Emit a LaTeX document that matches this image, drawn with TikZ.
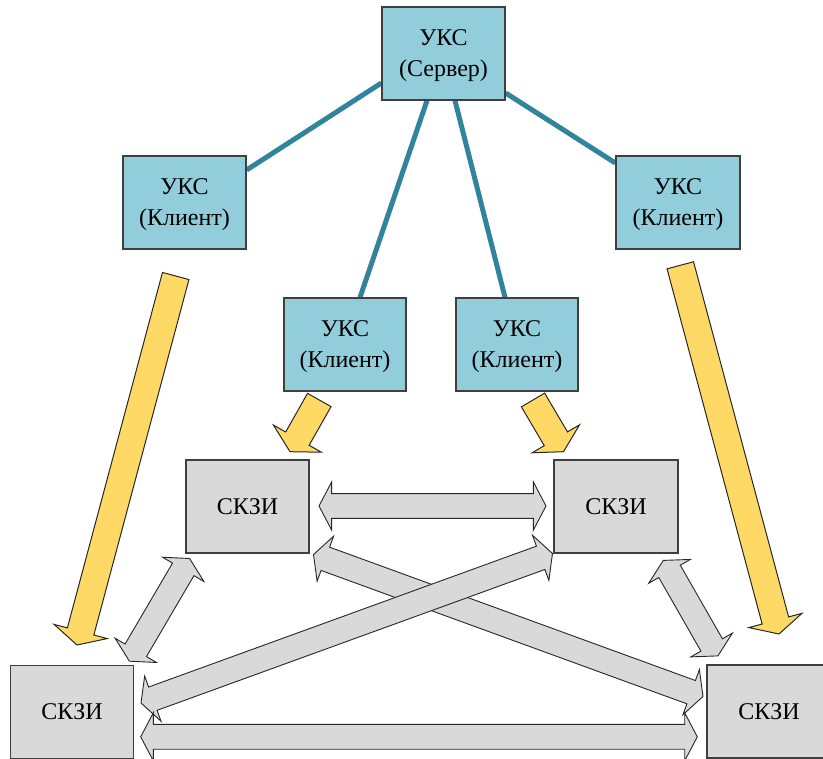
\documentclass[tikz,border=0pt]{standalone}
\usepackage{fontspec}
\setmainfont{Liberation Serif}
\usetikzlibrary{calc}

\definecolor{ukcfill}{HTML}{92CDDC}
\definecolor{linkteal}{HTML}{31849B}
\definecolor{keyfill}{HTML}{FFD966}
\definecolor{cryptofill}{HTML}{D9D9D9}
\definecolor{frame}{HTML}{3F3F3F}

\pgfdeclarelayer{links}
\pgfsetlayers{links,main}

\tikzset{
  ukc/.style={draw=frame, line width=1.3pt, fill=ukcfill, minimum width=123pt,
    minimum height=93pt, inner sep=0pt, align=center,
    font=\fontsize{24}{31}\selectfont},
  skzi/.style={draw=frame, line width=1.3pt, fill=cryptofill, minimum width=123pt,
    minimum height=93pt, inner sep=0pt, font=\fontsize{24}{31}\selectfont},
  link/.style={draw=linkteal, line width=5pt},
  keyarrowstyle/.style={draw=black!85, line width=1pt, fill=keyfill, line join=miter},
  duplex/.style={draw=black!85, line width=0.9pt, fill=cryptofill, line join=miter},
}

% block arrow: #1 tail centre, #2 tip, #3 half shaft, #4 half head, #5 head length
\newcommand{\drawkeyarrow}[5]{%
  \coordinate (#2-hb) at ($(#2)!#5!(#1)$);
  \filldraw[keyarrowstyle] ($(#1)!#3!90:(#2)$) -- ($(#2-hb)!#3!90:(#2)$)
    -- ($(#2-hb)!#4!90:(#2)$) -- (#2) -- ($(#2-hb)!#4!-90:(#2)$)
    -- ($(#2-hb)!#3!-90:(#2)$) -- ($(#1)!#3!-90:(#2)$) -- cycle;
}
% double-headed block arrow between tips #1 and #2
\newcommand{\drawduplex}[5]{%
  \coordinate (#1-hb) at ($(#1)!#5!(#2)$);
  \coordinate (#2-hb) at ($(#2)!#5!(#1)$);
  \filldraw[duplex] (#1) -- ($(#1-hb)!#4!90:(#2)$) -- ($(#1-hb)!#3!90:(#2)$)
    -- ($(#2-hb)!#3!-90:(#1)$) -- ($(#2-hb)!#4!-90:(#1)$) -- (#2)
    -- ($(#2-hb)!#4!90:(#1)$) -- ($(#2-hb)!#3!90:(#1)$)
    -- ($(#1-hb)!#3!-90:(#2)$) -- ($(#1-hb)!#4!-90:(#2)$) -- cycle;
}

\begin{document}
\begin{tikzpicture}[x=1pt, y=-1pt]
\useasboundingbox (0,0) rectangle (823,759);
\clip (0,0) rectangle (823,759);

% ---- key management server and clients
\node[ukc] (srv) at (443.5,53.5) {УКС\\\smash{(Сервер)}};
\node[ukc] (cl1) at (184.5,202.5) {УКС\\\smash{(Клиент)}};
\node[ukc, minimum width=124pt] (cl4) at (678,202.5) {УКС\\\smash{(Клиент)}};
\node[ukc, minimum width=122pt] (cl2) at (345,344.5) {УКС\\\smash{(Клиент)}};
\node[ukc, minimum width=122pt] (cl3) at (517,344.5) {УКС\\\smash{(Клиент)}};

% ---- links server -> clients, kept behind the boxes
\begin{pgfonlayer}{links}
\draw[link] ([yshift=-29.5pt]srv.west) -- ([yshift=32.5pt]cl1.east);
\draw[link] ([yshift=-39.5pt]srv.east) -- ([yshift=39.5pt]cl4.west);
\draw[link] ([xshift=-16.5pt]srv.south) -- ([xshift=15pt]cl2.north);
\draw[link] ([xshift=11.5pt]srv.south) -- ([xshift=-12pt]cl3.north);
\end{pgfonlayer}

% ---- crypto units
\node[skzi] (k1) at (72,712) {СКЗИ};
\node[skzi] (k2) at (247.5,506.5) {СКЗИ};
\node[skzi, minimum width=124pt] (k3) at (616,506.5) {СКЗИ};
\node[skzi, minimum width=124pt] (k4) at (769,711.5) {СКЗИ};

% ---- key delivery arrows
\coordinate (ya-t) at (175.7,276);  \coordinate (ya) at (77,645);
\coordinate (yb-t) at (319.3,400);  \coordinate (yb) at (290,451.7);
\coordinate (yc-t) at (533,400);    \coordinate (yc) at (563.5,451.7);
\coordinate (yd-t) at (680.3,265.3);\coordinate (yd) at (779,634);
\drawkeyarrow{ya-t}{ya}{13.7pt}{27.5pt}{14pt}
\drawkeyarrow{yb-t}{yb}{13.5pt}{27.5pt}{15pt}
\drawkeyarrow{yc-t}{yc}{13.5pt}{27.5pt}{15pt}
\drawkeyarrow{yd-t}{yd}{13.7pt}{27.5pt}{14pt}

% ---- exchange between crypto units
\coordinate (d1a) at (319,506);     \coordinate (d1b) at (546,506);
\coordinate (d3a) at (189.6,558.5); \coordinate (d3b) at (129.4,661.2);
\coordinate (d4a) at (663.3,560.4); \coordinate (d4b) at (717.9,655.9);
\coordinate (dAa) at (313.5,554.5); \coordinate (dAb) at (703,696.5);
\coordinate (dBa) at (141,703);     \coordinate (dBb) at (552.5,553.5);
\coordinate (d2a) at (140.7,736.8); \coordinate (d2b) at (697.3,736.8);
\drawduplex{d1a}{d1b}{12.4pt}{24pt}{12.6pt}
\drawduplex{d3a}{d3b}{12.4pt}{24pt}{12.6pt}
\drawduplex{d4a}{d4b}{12.4pt}{24pt}{12.6pt}
\drawduplex{dAa}{dAb}{12.4pt}{24pt}{12.6pt}
\drawduplex{dBa}{dBb}{12.4pt}{24pt}{12.6pt}
\drawduplex{d2a}{d2b}{12.4pt}{24pt}{12.6pt}
\end{tikzpicture}
\end{document}
